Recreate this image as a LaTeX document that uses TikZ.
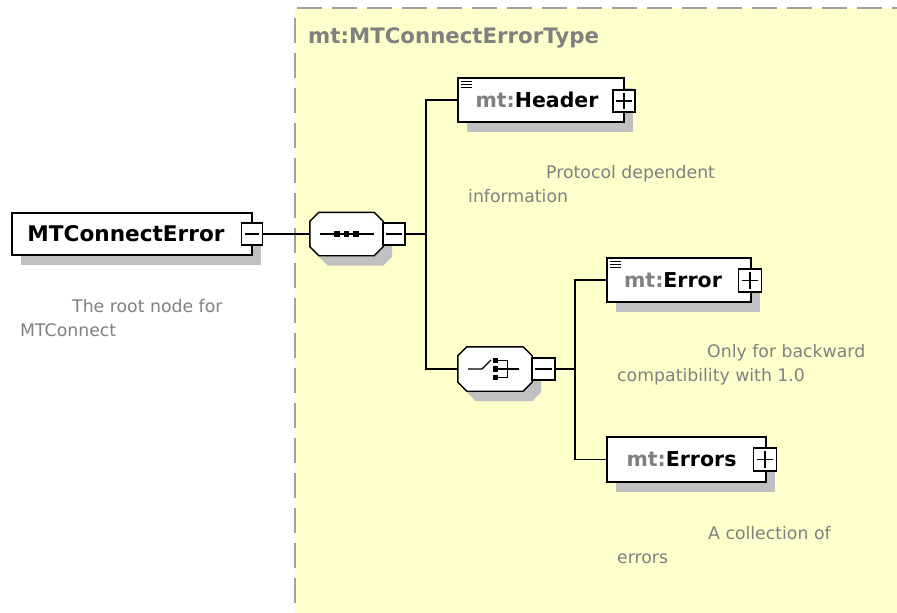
\documentclass[tikz,border=0pt]{standalone}
\usepackage{fontspec}
\setmainfont{DejaVu Sans}
\usetikzlibrary{shadows}

\definecolor{paneyellow}{HTML}{FFFFCC}
\definecolor{panedash}{HTML}{A0A0A0}
\definecolor{notegray}{HTML}{808080}
\definecolor{shadowgray}{HTML}{C0C0C0}

\tikzset{
  boxshadow/.style={drop shadow={shadow xshift=9pt, shadow yshift=-10pt, fill=shadowgray, opacity=1}},
  elem/.style={rectangle, draw=black, line width=1.4pt, fill=white, inner sep=0pt,
    font=\fontsize{20.5}{24}\selectfont\bfseries, boxshadow},
  rootelem/.style={elem, font=\fontsize{21.6}{24}\selectfont\bfseries},
  comp/.style={rectangle, inner sep=0pt},
  compface/.style={draw=black, line width=1.4pt, fill=white},
  compshadow/.style={fill=shadowgray, transform canvas={shift={(9pt,-10pt)}}},
  toggle/.style={rectangle, draw=black, line width=1.2pt, fill=white, inner sep=0pt,
    minimum width=21pt, minimum height=22pt},
  sign/.style={line width=1.2pt},
  wire/.style={line width=1.3pt},
  icon/.style={line width=1.2pt},
  dot/.style={fill=black, minimum size=5.5pt, inner sep=0pt, rectangle},
  note/.style={text=notegray, font=\fontsize{17.3}{24.5}\selectfont, align=left, inner sep=0pt, anchor=north west}
}
\newcommand\mtpre{\textcolor{notegray}{mt:}}
% octagonal outline of a compositor node, corners cut by 9pt
\newcommand\compoutline[2]{%
  \path[#2] ([xshift=9pt]#1.north west) -- ([xshift=-9pt]#1.north east)
    -- ([yshift=-9pt]#1.north east) -- ([yshift=9pt]#1.south east)
    -- ([xshift=-9pt]#1.south east) -- ([xshift=9pt]#1.south west)
    -- ([yshift=9pt]#1.south west) -- ([yshift=-9pt]#1.north west) -- cycle;}

\begin{document}
\begin{tikzpicture}[x=1pt,y=-1pt]
\useasboundingbox (0,0) rectangle (897,613);
\fill[white] (0,0) rectangle (897,613);

% type pane
\fill[paneyellow] (295,8) rectangle (897,613);
\draw[panedash, line width=2pt, dash pattern=on 25pt off 10pt] (297,8) -- (897,8);
\draw[panedash, line width=2pt, dash pattern=on 25pt off 10pt] (295,18) -- (295,613);
\node[anchor=base west, inner sep=0pt, text=notegray, font=\fontsize{21.3}{24}\selectfont\bfseries] (title) at (308,43) {mt:MTConnectErrorType};

% root element
\node[rootelem, minimum width=240pt, minimum height=42pt] (root) at (132,234) {MTConnectError\kern12pt};
\node[toggle] (rootT) at (252,234) {};
\draw[sign] ([xshift=4pt]rootT.west) -- ([xshift=-4pt]rootT.east);
\node[note] (rootN) at (20,299) {\hspace*{52pt}The root node for\\MTConnect};

% sequence compositor
\node[comp, minimum width=73pt, minimum height=43pt] (seq) at (346.5,234) {};
\compoutline{seq}{compshadow}
\compoutline{seq}{compface}
\node[toggle, minimum width=22pt] (seqT) at (394,234) {};
\draw[sign] ([xshift=4pt]seqT.west) -- ([xshift=-4pt]seqT.east);
\draw[icon] ([xshift=-27pt]seq.center) -- ([xshift=27pt]seq.center);
\node[dot] (sd1) at (337,234) {};
\node[dot] (sd2) at (346.5,234) {};
\node[dot] (sd3) at (356,234) {};

% header element
\node[elem, minimum width=166pt, minimum height=44pt] (hdr) at (541,100) {\mtpre Header\kern8pt};
\node[toggle, minimum width=22pt] (hdrT) at (624,101) {};
\draw[sign] ([xshift=4pt]hdrT.west) -- ([xshift=-4pt]hdrT.east);
\draw[sign] ([yshift=-4pt]hdrT.north) -- ([yshift=4pt]hdrT.south);
\foreach \d in {4.5,7.2,9.9}
  \draw[line width=1pt] ([shift={(4pt,-\d pt)}]hdr.north west) -- ++(11,0);
\node[note] (hdrN) at (468,165) {\hspace*{78pt}Protocol dependent\\information};

% choice compositor
\node[comp, minimum width=74pt, minimum height=44pt] (cho) at (495,369) {};
\compoutline{cho}{compshadow}
\compoutline{cho}{compface}
\node[toggle, minimum width=23pt] (choT) at (543.5,369) {};
\draw[sign] ([xshift=4pt]choT.west) -- ([xshift=-4pt]choT.east);
\draw[icon] ([xshift=-27pt]cho.center) -- ([xshift=-13pt]cho.center) -- ([shift={(-4pt,9pt)}]cho.center);
\node[dot] (cd1) at (495.5,360.5) {};
\node[dot] (cd2) at (495.5,369) {};
\node[dot] (cd3) at (495.5,377.5) {};
\draw[icon] (cd1.east) -| ([xshift=12pt]cd3.center) -- (cd3.east);
\draw[icon] (cd2.east) -- ([xshift=23pt]cd2.center);

% error element
\node[elem, minimum width=144pt, minimum height=44pt] (err) at (679,280) {\mtpre Error\kern12pt};
\node[toggle, minimum width=23pt, minimum height=23pt] (errT) at (750,280.5) {};
\draw[sign] ([xshift=4pt]errT.west) -- ([xshift=-4pt]errT.east);
\draw[sign] ([yshift=-4pt]errT.north) -- ([yshift=4pt]errT.south);
\foreach \d in {4.5,7.2,9.9}
  \draw[line width=1pt] ([shift={(4pt,-\d pt)}]err.north west) -- ++(11,0);
\node[note] (errN) at (617,344) {\hspace*{90pt}Only for backward\\compatibility with 1.0};

% errors element
\node[elem, minimum width=159pt, minimum height=45pt] (errs) at (686.5,459.5) {\mtpre Errors\kern10pt};
\node[toggle, minimum width=23pt, minimum height=23pt] (errsT) at (765,459.5) {};
\draw[sign] ([xshift=4pt]errsT.west) -- ([xshift=-4pt]errsT.east);
\draw[sign] ([yshift=-4pt]errsT.north) -- ([yshift=4pt]errsT.south);
\node[note] (errsN) at (617,526) {\hspace*{91pt}A collection of\\errors};

% connectors
\coordinate (j1) at (426,234);
\coordinate (j2) at (575,369);
\draw[wire] (rootT.east) -- (seq.west);
\draw[wire] (seqT.east) -- (j1);
\draw[wire] (hdr.west) -| (j1) |- (cho.west);
\draw[wire] (choT.east) -- (j2);
\draw[wire] (err.west) -| (j2) |- (errs.west);
\end{tikzpicture}
\end{document}
